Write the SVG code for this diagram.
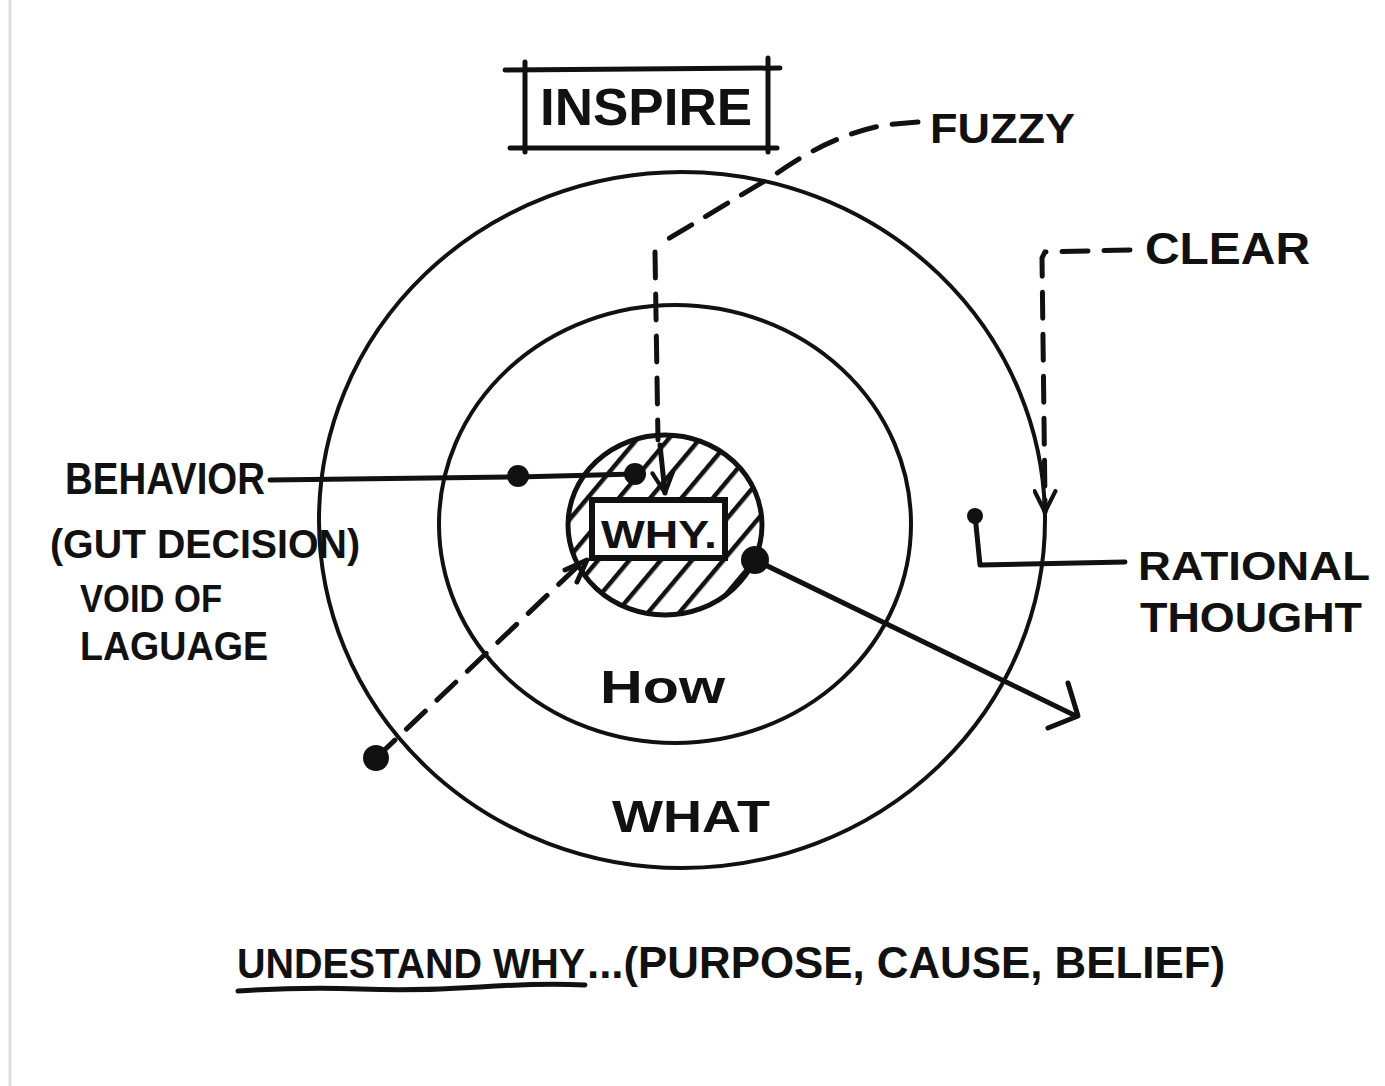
<svg xmlns="http://www.w3.org/2000/svg" width="1385" height="1086" viewBox="0 0 1385 1086">
<style>
.t{font-family:"Liberation Sans","DejaVu Sans",sans-serif;font-weight:bold;fill:#111}
.ring{fill:none;stroke:#111;stroke-width:4}
.ln{fill:none;stroke:#111;stroke-width:5;stroke-linecap:round;stroke-linejoin:round}
.dash{fill:none;stroke:#111;stroke-width:5;stroke-dasharray:26 16;stroke-linecap:round}
.dot{fill:#111}
</style>
<defs>
<pattern id="hatch" width="24" height="24" patternUnits="userSpaceOnUse" patternTransform="rotate(40)">
<line x1="2" y1="0" x2="2" y2="24" stroke="#111" stroke-width="5"/>
</pattern>
<marker id="vhead" viewBox="0 0 12 12" refX="11" refY="6" markerWidth="5" markerHeight="5" orient="auto" markerUnits="strokeWidth">
<path d="M1,1 L11,6 L1,11" fill="none" stroke="#111" stroke-width="2" stroke-linecap="round" stroke-linejoin="round"/>
</marker>
</defs>
<rect width="1385" height="1086" fill="#fff"/>
<line x1="10" y1="0" x2="10" y2="1086" stroke="#ddd" stroke-width="3"/>

<g id="what">
<ellipse class="ring" cx="682" cy="520" rx="363" ry="348"/>
<text class="t" x="612" y="832" font-size="44" textLength="158" lengthAdjust="spacingAndGlyphs">WHAT</text>
</g>
<g id="how">
<ellipse class="ring" cx="675" cy="524" rx="236" ry="219"/>
<text class="t" x="600" y="703" font-size="46" textLength="125" lengthAdjust="spacingAndGlyphs">How</text>
</g>
<g id="why">
<ellipse cx="665" cy="525" rx="97" ry="90" fill="url(#hatch)" stroke="#111" stroke-width="5"/>
<rect x="592" y="500" width="133" height="58" fill="#fff" stroke="#111" stroke-width="6"/>
<text class="t" x="601" y="548" font-size="38" textLength="116" lengthAdjust="spacingAndGlyphs">WHY.</text>
</g>
<g id="inspire">
<line class="ln" x1="505" y1="70" x2="780" y2="68"/>
<line class="ln" x1="510" y1="148" x2="777" y2="148"/>
<line class="ln" x1="525" y1="62" x2="525" y2="152"/>
<line class="ln" x1="768" y1="58" x2="768" y2="152"/>
<text class="t" x="540" y="125" font-size="52" textLength="212" lengthAdjust="spacingAndGlyphs">INSPIRE</text>
</g>
<g id="fuzzy">
<text class="t" x="930" y="143" font-size="42" textLength="145" lengthAdjust="spacingAndGlyphs">FUZZY</text>
</g>
<g id="clear">
<text class="t" x="1145" y="264" font-size="44" textLength="165" lengthAdjust="spacingAndGlyphs">CLEAR</text>
</g>
<g id="behavior">
<text class="t" x="65" y="494" font-size="44" textLength="200" lengthAdjust="spacingAndGlyphs">BEHAVIOR</text>
<text class="t" x="50" y="558" font-size="40" textLength="310" lengthAdjust="spacingAndGlyphs">(GUT DECISION)</text>
<text class="t" x="80" y="612" font-size="38" textLength="142" lengthAdjust="spacingAndGlyphs">VOID OF</text>
<text class="t" x="80" y="660" font-size="40" textLength="188" lengthAdjust="spacingAndGlyphs">LAGUAGE</text>
</g>
<g id="rational">
<text class="t" x="1138" y="580" font-size="40" textLength="232" lengthAdjust="spacingAndGlyphs">RATIONAL</text>
<text class="t" x="1140" y="632" font-size="42" textLength="222" lengthAdjust="spacingAndGlyphs">THOUGHT</text>
</g>
<g id="caption">
<text class="t" x="237" y="978" font-size="42" textLength="348" lengthAdjust="spacingAndGlyphs">UNDESTAND WHY</text>
<text class="t" x="587" y="978" font-size="44" textLength="638" lengthAdjust="spacingAndGlyphs">...(PURPOSE, CAUSE, BELIEF)</text>
<path class="ln" d="M238,991 Q300,987 360,989 T480,987 T585,985" stroke-width="4"/>
</g>

<g id="connectors">
<path class="dash" d="M918,122 L885,125 Q830,135 773,176 L663,242"/>
<path class="dash" d="M655,252 L658,440"/>
<path class="ln" d="M660,445 L665,493" marker-end="url(#vhead)"/>
<path class="dash" d="M1130,250 L1045,252 L1042,258 L1045,500"/>
<path class="ln" d="M1045,500 L1045,512" marker-end="url(#vhead)"/>
<path class="ln" d="M270,480 L518,477 L635,474"/>
<circle class="dot" cx="518" cy="476" r="11"/>
<circle class="dot" cx="635" cy="474" r="11"/>
<path class="ln" d="M975,515 L980,565 L1125,562" stroke-width="5"/>
<circle class="dot" cx="975" cy="516" r="8"/>
<path class="ln" d="M755,560 L1076,716" stroke-width="6"/>
<path class="ln" d="M1068,683 L1078,716 L1048,728" stroke-width="6"/>
<circle class="dot" cx="755" cy="560" r="14"/>
<path class="dash" d="M376,758 L578,566"/>
<path class="ln" d="M565,570 L587,560 L577,582" stroke-width="4"/>
<circle class="dot" cx="376" cy="758" r="13"/>
</g>
</svg>
